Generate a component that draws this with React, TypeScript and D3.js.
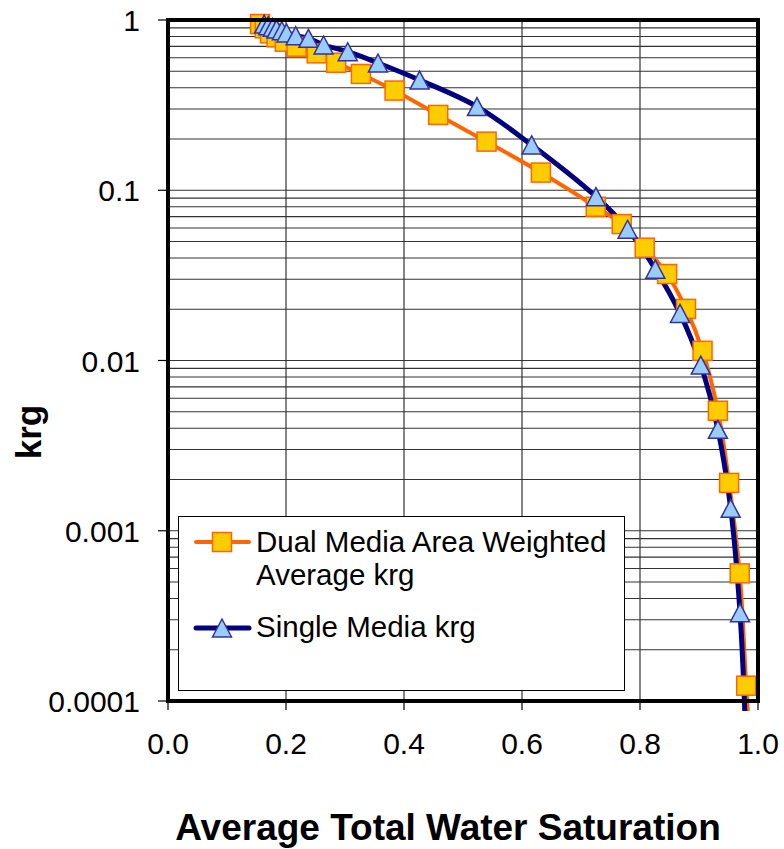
import { useEffect, useRef } from "react";
import * as d3 from "d3";

// Dual media area weighted average krg (orange squares)
const dualSw = [
  0.156, 0.164, 0.173, 0.184, 0.198, 0.218, 0.252, 0.285, 0.327, 0.384, 0.458,
  0.54, 0.632, 0.725, 0.769, 0.808, 0.846, 0.878, 0.906, 0.932, 0.951, 0.969,
  0.98, 0.992,
];
const dualKrg = [
  0.947, 0.894, 0.835, 0.791, 0.746, 0.697, 0.637, 0.561, 0.482, 0.385, 0.277,
  0.193, 0.127, 0.08, 0.0633, 0.046, 0.0322, 0.0201, 0.0114, 0.00507, 0.00191,
  0.000562, 0.000123, 0.000026,
];

// Single media krg (blue triangles)
const singleSw = [
  0.163, 0.17, 0.1775, 0.184, 0.193, 0.201, 0.2164, 0.238, 0.2637, 0.3046,
  0.3559, 0.4264, 0.5237, 0.6164, 0.7254, 0.779, 0.826, 0.8678, 0.903, 0.932,
  0.9537, 0.9695, 0.978,
];
const singleKrg = [
  0.947, 0.926, 0.906, 0.885, 0.865, 0.839, 0.809, 0.781, 0.713, 0.651, 0.559,
  0.444, 0.31, 0.1845, 0.0917, 0.059, 0.0344, 0.0189, 0.0094, 0.00394,
  0.001355, 0.00033, 0.00008,
];

const xTicks = [0, 0.2, 0.4, 0.6, 0.8, 1.0];
const yTicks = [1, 0.1, 0.01, 0.001, 0.0001];
const yTickLabels = ["1", "0.1", "0.01", "0.001", "0.0001"];
const legendLabels = [["Dual Media Area Weighted", "Average krg"], ["Single Media krg"]];

const FONT = "'Liberation Sans', Arial, Helvetica, sans-serif";

function App() {
  const ref = useRef<SVGSVGElement | null>(null);

  useEffect(() => {
    const svg = d3.select(ref.current);
    svg.selectAll("*").remove();

    const left = 168, right = 758, top = 20, bottom = 701;
    const x = d3.scaleLinear().domain([0, 1]).range([left, right]);
    const y = d3.scaleLog().domain([0.0001, 1]).range([bottom, top]);

    svg.append("rect").attr("width", 784).attr("height", 849).attr("fill", "#fff");

    // grid
    const grid = svg.append("g").attr("stroke", "#333").attr("stroke-width", 1.2);
    y.ticks()
      .filter((t) => t > 0.0001 && t < 1)
      .forEach((t) => {
        grid.append("line")
          .attr("x1", left).attr("x2", right)
          .attr("y1", y(t)).attr("y2", y(t));
      });
    xTicks.slice(1, -1).forEach((t) => {
      grid.append("line")
        .attr("x1", x(t)).attr("x2", x(t))
        .attr("y1", top).attr("y2", bottom);
    });

    // ticks
    const ticks = svg.append("g").attr("stroke", "#000").attr("stroke-width", 1.2);
    yTicks.forEach((t) => {
      ticks.append("line").attr("x1", left - 10).attr("x2", left).attr("y1", y(t)).attr("y2", y(t));
    });
    xTicks.forEach((t) => {
      ticks.append("line").attr("x1", x(t)).attr("x2", x(t)).attr("y1", bottom).attr("y2", bottom + 9);
    });

    // tick labels
    yTicks.forEach((t, i) => {
      svg.append("text")
        .attr("x", 140).attr("y", y(t) + 11)
        .attr("text-anchor", "end")
        .attr("font-family", FONT).attr("font-size", 30)
        .text(yTickLabels[i]);
    });
    xTicks.forEach((t) => {
      svg.append("text")
        .attr("x", x(t)).attr("y", 754)
        .attr("text-anchor", "middle")
        .attr("font-family", FONT).attr("font-size", 30)
        .text(d3.format(".1f")(t));
    });

    // axis titles
    svg.append("text")
      .attr("x", 448).attr("y", 840)
      .attr("text-anchor", "middle")
      .attr("font-family", FONT).attr("font-size", 37).attr("font-weight", "bold")
      .text("Average Total Water Saturation");
    svg.append("text")
      .attr("transform", "translate(41,432) rotate(-90)")
      .attr("text-anchor", "middle")
      .attr("font-family", FONT).attr("font-size", 35).attr("font-weight", "bold")
      .text("krg");

    // lines
    svg.append("clipPath").attr("id", "plotclip")
      .append("rect").attr("x", left).attr("y", 0).attr("width", right - left).attr("height", bottom + 10);

    const dual = dualSw.map((s, i) => [s, dualKrg[i]]);
    const single = singleSw.map((s, i) => [s, singleKrg[i]]);

    const line = d3.line<number[]>()
      .x((d) => x(d[0]))
      .y((d) => y(d[1]))
      .curve(d3.curveCatmullRom.alpha(0.5));

    const lines = svg.append("g").attr("clip-path", "url(#plotclip)");
    lines.append("path").attr("d", line(dual)).attr("fill", "none")
      .attr("stroke", "#FF6600").attr("stroke-width", 4);
    lines.append("path").attr("d", line(single)).attr("fill", "none")
      .attr("stroke", "#000080").attr("stroke-width", 5);

    // markers
    const sq = 19;
    const tri = `M0,-9L9.5,9L-9.5,9Z`;
    const inRange = (d: number[]) => d[1] >= 0.0001;
    svg.append("g").selectAll("rect").data(dual.filter(inRange)).enter().append("rect")
      .attr("x", (d) => x(d[0]) - sq / 2).attr("y", (d) => y(d[1]) - sq / 2)
      .attr("width", sq).attr("height", sq)
      .attr("fill", "#FFCC00").attr("stroke", "#FF6600").attr("stroke-width", 1.5);
    svg.append("g").selectAll("path").data(single.filter(inRange)).enter().append("path")
      .attr("d", tri)
      .attr("transform", (d) => `translate(${x(d[0])},${y(d[1])})`)
      .attr("fill", "#99CCFF").attr("stroke", "#333399").attr("stroke-width", 1.5);

    // frame
    svg.append("rect")
      .attr("x", left).attr("y", top).attr("width", right - left).attr("height", bottom - top)
      .attr("fill", "none").attr("stroke", "#000").attr("stroke-width", 4);

    // legend
    const lg = svg.append("g");
    lg.append("rect").attr("x", 178.5).attr("y", 516.5).attr("width", 446).attr("height", 174)
      .attr("fill", "#fff").attr("stroke", "#000").attr("stroke-width", 1);
    const rows = [
      { y: 542, color: "#FF6600", width: 4, texty: [552, 585] },
      { y: 628, color: "#000080", width: 5, texty: [637] },
    ];
    rows.forEach((r, i) => {
      lg.append("line").attr("x1", 196).attr("x2", 249).attr("y1", r.y).attr("y2", r.y)
        .attr("stroke", r.color).attr("stroke-width", r.width).attr("stroke-linecap", "round");
      if (i === 0) {
        lg.append("rect").attr("x", 222 - sq / 2).attr("y", r.y - sq / 2).attr("width", sq).attr("height", sq)
          .attr("fill", "#FFCC00").attr("stroke", "#FF6600").attr("stroke-width", 1.5);
      } else {
        lg.append("path").attr("d", tri).attr("transform", `translate(222,${r.y})`)
          .attr("fill", "#99CCFF").attr("stroke", "#333399").attr("stroke-width", 1.5);
      }
      legendLabels[i].forEach((txt, j) => {
        lg.append("text").attr("x", 256).attr("y", r.texty[j])
          .attr("font-family", FONT).attr("font-size", 29.5).text(txt);
      });
    });
  }, []);

  return (
    <div style={{ position: "absolute", left: 0, top: 0 }}>
      <svg ref={ref} width={784} height={849} style={{ display: "block" }} />
    </div>
  );
}

export default App;
